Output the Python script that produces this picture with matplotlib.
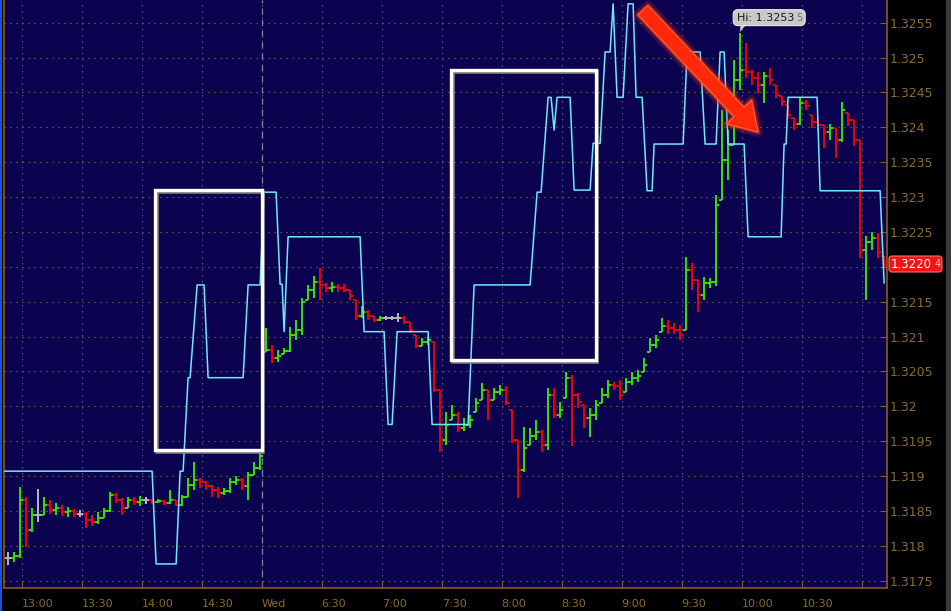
import numpy as np
import matplotlib
matplotlib.use("Agg")
import matplotlib.pyplot as plt
from matplotlib.collections import LineCollection
from matplotlib.patches import Rectangle, FancyBboxPatch, Polygon
from matplotlib.transforms import IdentityTransform, offset_copy
from matplotlib.ticker import FixedLocator, MultipleLocator, FuncFormatter

# bars every 3 minutes, x = minutes counted from 13:00 (session gap removed)
bar_start = -7
bar_step = 3

closes = [
    1.31782, 1.31785, 1.31866, 1.31823, 1.31844, 1.31844, 1.31858, 1.31851, 1.31854, 1.31848,
    1.31850, 1.31846, 1.31846, 1.31837, 1.31834, 1.31840, 1.31850, 1.31873, 1.31866, 1.31854,
    1.31866, 1.31863, 1.31866, 1.31866, 1.31863, 1.31864, 1.31861, 1.31866, 1.31858, 1.31870,
    1.31887, 1.31894, 1.31891, 1.31886, 1.31880, 1.31876, 1.31879, 1.31891, 1.31894, 1.31886,
    1.31901, 1.31911, 1.31929, 1.32081, 1.32069, 1.32072, 1.32079, 1.32102, 1.32109, 1.32150,
    1.32167, 1.32178, 1.32174, 1.32170, 1.32171, 1.32170, 1.32167, 1.32158, 1.32129, 1.32135,
    1.32129, 1.32124, 1.32127, 1.32127, 1.32127, 1.32127, 1.32121, 1.32109, 1.32086, 1.32092,
    1.32095, 1.32023, 1.31952, 1.31973, 1.31988, 1.31969, 1.31973, 1.31980, 1.32005, 1.32023,
    1.32009, 1.32020, 1.32023, 1.32005, 1.31952, 1.31909, 1.31940, 1.31957, 1.31963, 1.31945,
    1.32016, 1.31988, 1.31995, 1.32040, 1.32016, 1.32006, 1.31983, 1.31988, 1.32002, 1.32016,
    1.32030, 1.32029, 1.32016, 1.32035, 1.32040, 1.32043, 1.32059, 1.32088, 1.32095, 1.32115,
    1.32112, 1.32109, 1.32102, 1.32195, 1.32181, 1.32160, 1.32177, 1.32178, 1.32288, 1.32353,
    1.32375, 1.32468, 1.32482, 1.32479, 1.32471, 1.32461, 1.32474, 1.32468, 1.32446, 1.32436,
    1.32418, 1.32405, 1.32435, 1.32431, 1.32408, 1.32403, 1.32393, 1.32399, 1.32382, 1.32425,
    1.32410, 1.32382, 1.32224, 1.32236, 1.32241, 1.32221, 1.32204,
]
highs = [
    1.31791, 1.31791, 1.31884, 1.31870, 1.31854, 1.31881, 1.31870, 1.31866, 1.31861, 1.31858,
    1.31856, 1.31853, 1.31851, 1.31848, 1.31844, 1.31848, 1.31854, 1.31877, 1.31876, 1.31869,
    1.31870, 1.31870, 1.31871, 1.31870, 1.31867, 1.31867, 1.31866, 1.31880, 1.31866, 1.31873,
    1.31897, 1.31920, 1.31897, 1.31893, 1.31887, 1.31884, 1.31883, 1.31897, 1.31900, 1.31897,
    1.31906, 1.31920, 1.31934, 1.32112, 1.32088, 1.32081, 1.32084, 1.32114, 1.32124, 1.32155,
    1.32174, 1.32187, 1.32198, 1.32177, 1.32178, 1.32175, 1.32175, 1.32167, 1.32152, 1.32144,
    1.32138, 1.32129, 1.32129, 1.32129, 1.32129, 1.32134, 1.32129, 1.32121, 1.32102, 1.32098,
    1.32099, 1.32092, 1.32023, 1.31992, 1.32002, 1.31992, 1.31983, 1.31988, 1.32012, 1.32033,
    1.32023, 1.32026, 1.32030, 1.32029, 1.31995, 1.31952, 1.31970, 1.31969, 1.31980, 1.31966,
    1.32026, 1.32026, 1.32006, 1.32049, 1.32045, 1.32019, 1.32002, 1.31998, 1.32009, 1.32026,
    1.32038, 1.32035, 1.32038, 1.32040, 1.32049, 1.32052, 1.32069, 1.32098, 1.32102, 1.32127,
    1.32124, 1.32119, 1.32117, 1.32214, 1.32205, 1.32181, 1.32185, 1.32184, 1.32303, 1.32425,
    1.32396, 1.32497, 1.32535, 1.32521, 1.32482, 1.32479, 1.32479, 1.32485, 1.32461, 1.32445,
    1.32432, 1.32413, 1.32442, 1.32439, 1.32418, 1.32413, 1.32403, 1.32405, 1.32399, 1.32436,
    1.32421, 1.32410, 1.32382, 1.32244, 1.32250, 1.32248, 1.32216,
]
lows = [
    1.31772, 1.31777, 1.31782, 1.31798, 1.31820, 1.31834, 1.31844, 1.31846, 1.31844, 1.31843,
    1.31841, 1.31841, 1.31841, 1.31826, 1.31828, 1.31831, 1.31840, 1.31848, 1.31861, 1.31844,
    1.31854, 1.31858, 1.31857, 1.31860, 1.31860, 1.31861, 1.31858, 1.31860, 1.31857, 1.31857,
    1.31870, 1.31880, 1.31883, 1.31880, 1.31870, 1.31869, 1.31873, 1.31876, 1.31887, 1.31880,
    1.31866, 1.31901, 1.31909, 1.32078, 1.32062, 1.32063, 1.32075, 1.32078, 1.32095, 1.32102,
    1.32152, 1.32155, 1.32152, 1.32164, 1.32164, 1.32164, 1.32164, 1.32152, 1.32124, 1.32127,
    1.32124, 1.32121, 1.32122, 1.32124, 1.32124, 1.32121, 1.32118, 1.32105, 1.32084, 1.32086,
    1.32088, 1.32020, 1.31934, 1.31945, 1.31980, 1.31963, 1.31965, 1.31969, 1.31992, 1.32009,
    1.31980, 1.32009, 1.32016, 1.32002, 1.31947, 1.31869, 1.31906, 1.31945, 1.31952, 1.31934,
    1.31937, 1.31983, 1.31983, 1.32012, 1.31943, 1.31997, 1.31969, 1.31956, 1.31980, 1.32005,
    1.32012, 1.32023, 1.32009, 1.32020, 1.32030, 1.32035, 1.32049, 1.32078, 1.32084, 1.32107,
    1.32104, 1.32104, 1.32095, 1.32109, 1.32167, 1.32135, 1.32152, 1.32170, 1.32172, 1.32296,
    1.32324, 1.32375, 1.32454, 1.32471, 1.32461, 1.32449, 1.32435, 1.32461, 1.32442, 1.32430,
    1.32413, 1.32396, 1.32403, 1.32425, 1.32399, 1.32393, 1.32370, 1.32382, 1.32356, 1.32379,
    1.32402, 1.32373, 1.32213, 1.32152, 1.32224, 1.32213, 1.32199,
]

# cyan indicator (step line)
cyan_t = [-9, 65.2, 67.2, 77.2, 79.2, 80.7, 83.2, 84.2, 87.7, 91.2, 93.2, 110.7, 113.2,
          119.2, 121.2, 127.2, 129.2, 130.2, 131.2, 133.2, 169.2, 171.2, 181.2, 183.2,
          185.2, 187.7, 203.2, 205.2, 223.2, 226.2, 254.2, 257.7, 259.7, 263.2, 264.7,
          266.2, 267.7, 274.2, 276.2, 284.2, 285.7, 289.2, 291.7, 294.2, 295.7, 297.7,
          300.7, 303.2, 305.7, 307.2, 310.2, 312.7, 315.2, 316.2, 330.7, 332.7, 339.2,
          341.7, 347.2, 349.2, 351.2, 353.2, 361.2, 363.2, 379.7, 381.2, 382.2, 383.2,
          397.7, 399.2, 429.2, 431.2]
cyan_v = [1.31907, 1.31907, 1.31774, 1.31774, 1.31907, 1.31907, 1.32041, 1.32041, 1.32174,
          1.32174, 1.32041, 1.32041, 1.32174, 1.32174, 1.32307, 1.32307, 1.32175, 1.32175,
          1.32107, 1.32243, 1.32243, 1.32107, 1.32107, 1.31974, 1.31974, 1.32107, 1.32107,
          1.31974, 1.31974, 1.32174, 1.32174, 1.32307, 1.32307, 1.32443, 1.32443, 1.32396,
          1.32443, 1.32443, 1.32310, 1.32310, 1.32377, 1.32377, 1.32508, 1.32508, 1.32577,
          1.32443, 1.32443, 1.32577, 1.32577, 1.32443, 1.32443, 1.32309, 1.32309, 1.32376,
          1.32376, 1.32508, 1.32508, 1.32376, 1.32376, 1.32508, 1.32508, 1.32376, 1.32376,
          1.32243, 1.32243, 1.32376, 1.32376, 1.32443, 1.32443, 1.32309, 1.32309, 1.32177]

tick_minutes = [0, 30, 60, 90, 120, 150, 180, 210, 240, 270, 300, 330, 360, 390, 420]
tick_labels = ["13:00", "13:30", "14:00", "14:30", "Wed", "6:30", "7:00", "7:30",
               "8:00", "8:30", "9:00", "9:30", "10:00", "10:30", ""]
session_break = 120

bg = "#0c0350"
axis_col = "#8a5c14"
label_col = "#8c6c2c"

fig = plt.figure(figsize=(9.51, 6.11), dpi=100, facecolor="black")
ax = fig.add_axes([4 / 951, 23 / 611, 883 / 951, 588 / 611])
ax.set_facecolor(bg)
ax.set_xlim(-8.85, 432.65)
ax.set_ylim(1.317395, 1.325825)

# grid
ax.yaxis.set_major_locator(MultipleLocator(0.0005))
ax.xaxis.set_major_locator(FixedLocator(tick_minutes))
ax.set_xticklabels(tick_labels)
ax.grid(axis="y", color="#946410", linestyle=(0, (1.2, 4.2)), lw=0.8)
ax.grid(axis="x", color="#686890", linestyle=(0, (1.2, 4.2)), lw=0.8)
ax.axvline(session_break, color="#8888a8", lw=0.9, linestyle=(0, (5, 4)), zorder=1)

# price bars
n = len(closes)
t = bar_start + bar_step * np.arange(n)
c = np.array(closes)
h = np.array(highs)
l = np.array(lows)
o = np.clip(np.r_[c[0], c[:-1]], l, h)
segs, cols = [], []
for i in range(n):
    if c[i] > o[i] + 1e-7:
        col = "#38e000"
    elif c[i] < o[i] - 1e-7:
        col = "#f00000"
    else:
        col = "#b8b8b8"
    segs += [[(t[i], l[i]), (t[i], h[i])],
             [(t[i] - 1.5, o[i]), (t[i], o[i])],
             [(t[i], c[i]), (t[i] + 1.5, c[i])]]
    cols += [col] * 3
ax.add_collection(LineCollection(segs, colors=cols, linewidths=1.4, zorder=3))

# cyan line
ax.plot(cyan_t, cyan_v, color="#6ee8ff", lw=1.1, zorder=4)

# white boxes with a soft shadow
shadow_tr = offset_copy(ax.transData, fig=fig, x=1.5, y=-1.5, units="dots")
for (x0, x1), (y0, y1) in [((66.65, 119.9), (1.31937, 1.32310)),
                           ((214.65, 286.9), (1.32066, 1.32482))]:
    ax.add_patch(Rectangle((x0, y0), x1 - x0, y1 - y0, fill=False, ec="#808080",
                           lw=2.6, transform=shadow_tr, zorder=5))
    ax.add_patch(Rectangle((x0, y0), x1 - x0, y1 - y0, fill=False, ec="white",
                           lw=2.4, zorder=6))

# red arrow with a glow
arrow_style = "simple,head_length=1.0,head_width=1.25,tail_width=0.5"
for ec, lw, fc in [((1, 0.2, 0.05, 0.18), 7, "none"), ((1, 0.25, 0.05, 0.35), 3.5, "none"),
                   ("#ff5a30", 1.0, "#ff2808")]:
    ax.annotate("", xy=(368.2, 1.32393), xytext=(310.6, 1.32568),
                arrowprops=dict(arrowstyle=arrow_style, mutation_scale=20, fc=fc, ec=ec,
                                lw=lw, shrinkA=0, shrinkB=0, joinstyle="round"),
                zorder=8)

# axes styling
last = closes[-1]


def price_fmt(v, pos):
    # the level under the last-price box is covered, so leave it blank
    if abs(v - last) < 0.0002:
        return ""
    return "{:g}".format(round(v, 4))


ax.spines["top"].set_visible(False)
for side in ["left", "right", "bottom"]:
    ax.spines[side].set_color(axis_col)
    ax.spines[side].set_linewidth(1.2)
ax.yaxis.tick_right()
ax.yaxis.set_major_formatter(FuncFormatter(price_fmt))
ax.tick_params(axis="y", direction="in", length=4, color=axis_col, labelcolor=label_col,
               labelsize=9, pad=2)
ax.tick_params(axis="x", direction="in", length=4, color=axis_col, labelcolor=label_col,
               labelsize=8, pad=8)
for lab in ax.get_xticklabels():
    lab.set_horizontalalignment("left")

# labels drawn in screen pixels
fig.canvas.draw()
ident = IdentityTransform()

i_hi = int(np.argmax(h))
hx, hy = ax.transData.transform((t[i_hi], h[i_hi]))
bx, by = hx - 5, hy + 9
fig.add_artist(Polygon([(hx + 1, by), (hx + 7, by), (hx, hy + 1)], closed=True,
                       fc="#c8c8c8", ec="none", transform=ident))
fig.add_artist(FancyBboxPatch((bx, by), 69, 13, boxstyle="round,pad=1.5,rounding_size=5",
                              fc="#c8c8c8", ec="#e8e8e8", lw=0.8, transform=ident))
hi_txt = fig.text(bx + 2, by + 6.5, "Hi: %.4f" % (np.floor(h[i_hi] * 1e4) / 1e4),
                  transform=ident, fontsize=8, color="#1a1a1a", va="center", ha="left")
fig.canvas.draw()
fig.text(hi_txt.get_window_extent().x1 + 2, by + 6.5, ("%.5f" % h[i_hi])[-1],
         transform=ident, fontsize=7, color="#707070", va="center", ha="left")

_, ly = ax.transData.transform((0, last))
lx = ax.transAxes.transform((1, 0))[0]
fig.add_artist(FancyBboxPatch((lx + 3, ly - 7), 51, 14, boxstyle="round,pad=1,rounding_size=3",
                              fc="#f01414", ec="#ff7070", lw=0.8, transform=ident))
p_txt = fig.text(lx + 4, ly, "%.4f" % (np.floor(last * 1e4) / 1e4), transform=ident,
                 fontsize=8.5, color="white", va="center", ha="left")
fig.canvas.draw()
fig.text(p_txt.get_window_extent().x1 + 2.5, ly, ("%.5f" % last)[-1], transform=ident,
         fontsize=7, color="#ffc0c0", va="center", ha="left")

# screen edges
fig.add_artist(Rectangle((0, 0), 1.5, 611, fc="#1e50e0", ec="none", transform=ident))
fig.add_artist(Rectangle((946, 0), 5, 611, fc="#3a3a3a", ec="none", transform=ident))

fig.savefig("out.png", dpi=100, facecolor="black")
